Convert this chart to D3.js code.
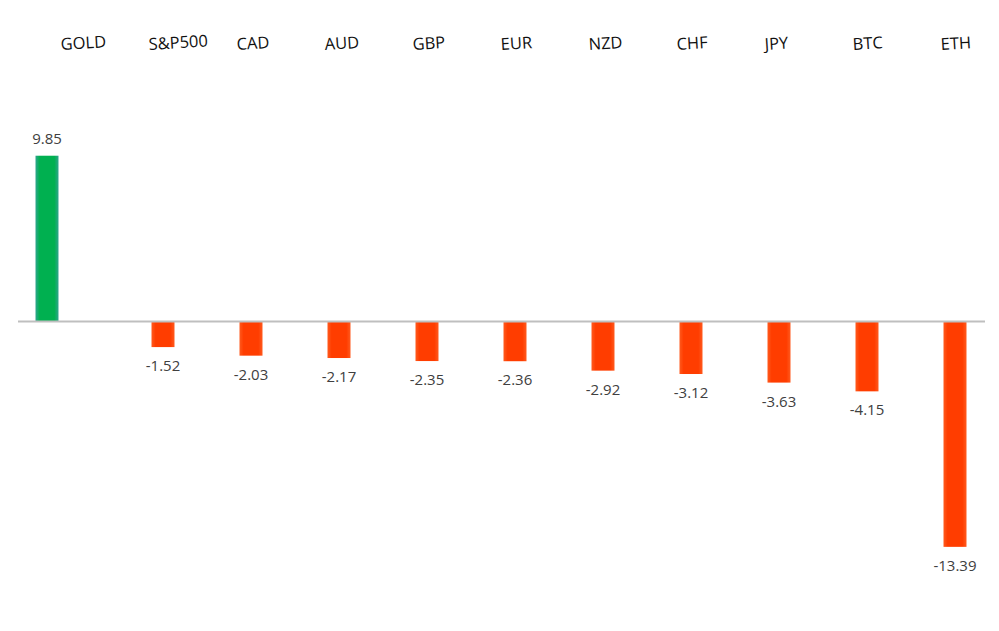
<!DOCTYPE html>
<html><head><meta charset="utf-8">
<script src="https://cdn.jsdelivr.net/npm/d3@7"></script>
<style>html,body{margin:0;padding:0;background:#fff;}svg{display:block;}</style>
</head><body>
<script>
const categories = ["GOLD","S&P500","CAD","AUD","GBP","EUR","NZD","CHF","JPY","BTC","ETH"];
const values = [9.85,-1.52,-2.03,-2.17,-2.35,-2.36,-2.92,-3.12,-3.63,-4.15,-13.39];
const seriesNames = ["gain","loss"];
const seriesColors = {gain:["#2fa58c","#00b050"], loss:["#ff5a1e","#ff3d00"]};

const W = 999, H = 631;
const svg = d3.select("body").append("svg").attr("width",W).attr("height",H);

const x = d3.scaleBand().domain(categories).range([17,985]).paddingInner(0).paddingOuter(0);
const y = d3.scaleLinear().domain([-15,12]).range([321.5+15*16.83, 321.5-12*16.83]);
const barW = 23;

const defs = svg.append("defs");
seriesNames.forEach(s=>{
  const g = defs.append("linearGradient").attr("id","g-"+s).attr("x1","0").attr("x2","1").attr("y1","0").attr("y2","0");
  g.append("stop").attr("offset","0%").attr("stop-color",seriesColors[s][0]);
  g.append("stop").attr("offset","18%").attr("stop-color",seriesColors[s][1]);
  g.append("stop").attr("offset","82%").attr("stop-color",seriesColors[s][1]);
  g.append("stop").attr("offset","100%").attr("stop-color",seriesColors[s][0]);
});

const data = categories.map((c,i)=>({cat:c, v:values[i], s: values[i]>=0 ? "gain":"loss"}));
const cx = d => x(d.cat) + x.bandwidth()/2 + (d.s==="gain" ? -14 : 14);
const fmt = v => d3.format(".2f")(v).replace("\u2212","-");

svg.selectAll("rect.bar").data(data).join("rect").attr("class","bar")
  .attr("x", d=>cx(d)-barW/2).attr("width", barW)
  .attr("y", d=>y(Math.max(0,d.v))).attr("height", d=>Math.abs(y(d.v)-y(0)))
  .attr("fill", d=>"url(#g-"+d.s+")");

// zero line
svg.append("line").attr("x1",x.range()[0]+1).attr("x2",x.range()[1]).attr("y1",y(0)).attr("y2",y(0))
  .attr("stroke","#bfbfbf").attr("stroke-width",2);

// value labels
svg.selectAll("text.val").data(data).join("text").attr("class","val")
  .attr("x", d=>cx(d)).attr("y", d=> d.v>=0 ? y(d.v)-12 : y(d.v)+24)
  .attr("text-anchor","middle").attr("font-family","'Open Sans', sans-serif").attr("font-size",15)
  .attr("fill","#404040").text(d=>fmt(d.v));

// category labels (slightly rotated, top)
svg.selectAll("text.cat").data(categories).join("text").attr("class","cat")
  .attr("transform", c=>`translate(${x(c)+x.bandwidth()/2},50) rotate(-3.5)`)
  .attr("font-family","'Open Sans', sans-serif").attr("font-size",16.5).attr("fill","#111")
  .text(c=>c);
</script>
</body></html>
